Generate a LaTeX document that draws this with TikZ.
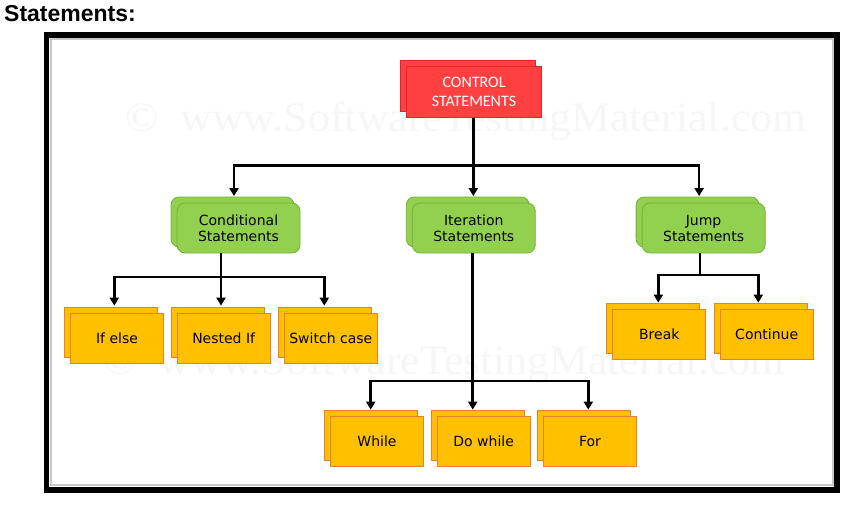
\documentclass[tikz,border=0pt]{standalone}
\usepackage{fontspec}
\setmainfont{DejaVu Sans}
\newfontfamily\calfont{Carlito}
\newfontfamily\titlefont{Liberation Sans}
\newfontfamily\wmfont{Liberation Serif}
\usetikzlibrary{arrows.meta,shadows,calc}
\definecolor{redfill}{RGB}{255,64,64}
\definecolor{reddraw}{RGB}{222,40,40}
\definecolor{greenfill}{RGB}{146,208,80}
\definecolor{greendraw}{RGB}{118,176,58}
\definecolor{yelfill}{RGB}{255,192,0}
\definecolor{yeldraw}{RGB}{237,125,49}
\definecolor{framegray}{RGB}{200,200,200}
\definecolor{wmgray}{RGB}{246,246,246}
\tikzset{
  ctrlbox/.style={draw=reddraw, fill=redfill, line width=0.8pt, minimum width=135pt, minimum height=51pt,
    inner sep=0pt, align=center, text=white, font=\calfont\fontsize{16}{18.5}\selectfont,
    copy shadow={shadow xshift=-6pt, shadow yshift=6pt}},
  catbox/.style={draw=greendraw, fill=greenfill, line width=0.8pt, rounded corners=8pt, minimum width=123pt,
    minimum height=50pt, inner sep=0pt, align=center, font=\fontsize{14}{16}\selectfont,
    copy shadow={shadow xshift=-6pt, shadow yshift=6pt}},
  leafbox/.style={draw=yeldraw, fill=yelfill, line width=0.7pt, minimum width=93pt, minimum height=50pt,
    inner sep=0pt, align=center, font=\fontsize{14}{16}\selectfont,
    copy shadow={shadow xshift=-6pt, shadow yshift=6pt}},
  ln/.style={line width=2.6pt, black},
  arr/.style={ln, -{Triangle[width=9pt,length=8pt]}},
  wm/.style={text=wmgray, font=\wmfont\fontsize{42}{42}\selectfont, inner sep=0pt}
}
\begin{document}
\begin{tikzpicture}[x=1pt,y=-1pt]
\useasboundingbox (0,0) rectangle (858,506);
% title
\node[anchor=base west, inner sep=0pt, font=\titlefont\bfseries\fontsize{23}{23}\selectfont] (title) at (4,21) {Statements:};
% frame
\draw[framegray, line width=2pt] (50.5,39.3) rectangle (832.8,485.3);
\draw[black, line width=5.5pt] (46.5,35) rectangle (837,490);
% watermarks
\node[wm, anchor=base west] (wm1) at (125,131.7) {\scalebox{1.046}[1]{©\ \ www.SoftwareTestingMaterial.com}};
\node[wm, anchor=base west] (wm2) at (103,374) {\scalebox{1.046}[1]{©\ \ www.SoftwareTestingMaterial.com}};
% nodes
\node[ctrlbox] (ctrl) at (474,92) {CONTROL\\STATEMENTS};
\node[catbox] (cond) at (238.5,228) {Conditional\\Statements};
\node[catbox] (iter) at (473.8,228) {Iteration\\Statements};
\node[catbox] (jump) at (703.6,228) {Jump\\Statements};
\node[leafbox] (ifelse) at (117,338) {If else};
\node[leafbox] (nested) at (223.7,338) {Nested If};
\node[leafbox] (switch) at (330.8,338) {Switch case};
\node[leafbox] (brk) at (659.3,334.5) {Break};
\node[leafbox] (cont) at (766.7,334.5) {Continue};
\node[leafbox] (while) at (377,441.5) {While};
\node[leafbox] (dowhile) at (483.7,441.5) {Do while};
\node[leafbox] (for) at (590,441.5) {For};
% connectors: top level
\coordinate (b1) at (473.3,165.7);
\draw[ln] (ctrl.south -| b1) -- (b1);
\draw[arr] (b1) -| ($(cond.north)+(-4.5,-6.5)$);
\draw[arr] (b1) -- ($(iter.north)+(-0.5,-6.5)$);
\draw[arr] (b1) -| ($(jump.north)+(-4.5,-6.5)$);
% conditional
\coordinate (b2) at (221,277);
\draw[ln] (cond.south -| b2) -- (b2);
\draw[arr] (b2) -| ($(ifelse.north)+(-2.7,-7)$);
\draw[arr] (b2) -- ($(nested.north)+(-2.7,-7)$);
\draw[arr] (b2) -| ($(switch.north)+(-6.5,-7)$);
% iteration
\coordinate (b3) at (472.7,381);
\draw[ln] (iter.south -| b3) -- (b3);
\draw[arr] (b3) -| ($(while.north)+(-6.3,-6.5)$);
\draw[arr] (b3) -- ($(dowhile.north)+(-11,-6.5)$);
\draw[arr] (b3) -| ($(for.north)+(-1.7,-6.5)$);
% jump
\coordinate (b4) at (700,275);
\draw[ln] (jump.south -| b4) -- (b4);
\draw[arr] (b4) -| ($(brk.north)+(-1,-6.5)$);
\draw[arr] (b4) -| ($(cont.north)+(-8.4,-6.5)$);
\end{tikzpicture}
\end{document}
